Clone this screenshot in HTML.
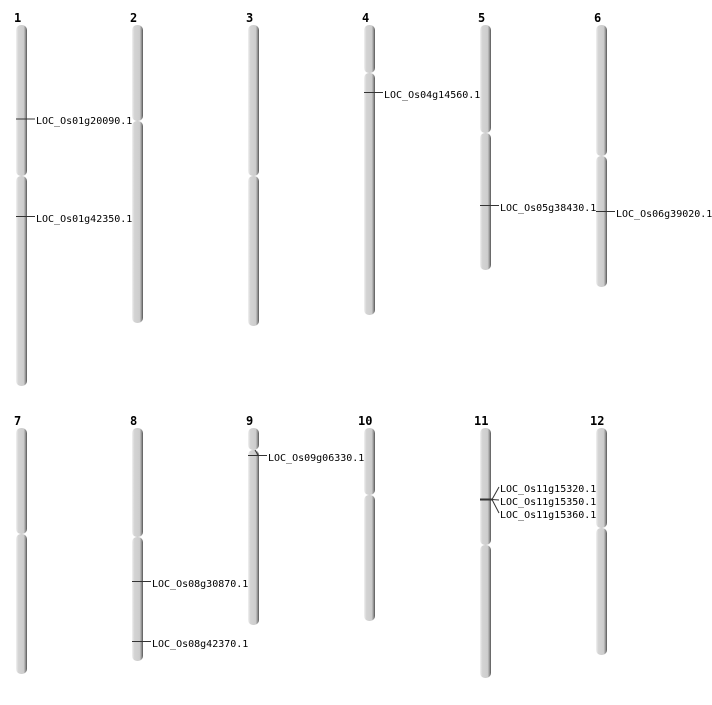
<!DOCTYPE html>
<html><head><meta charset="utf-8"><style>
body{margin:0;background:#fff}
text{font-family:"DejaVu Sans Mono","Liberation Mono",monospace;font-size:10px;fill:#000}
.n{font-family:"DejaVu Sans Mono","Liberation Mono",monospace;font-size:12px;font-weight:bold}
</style></head><body>
<svg width="712" height="700" xmlns="http://www.w3.org/2000/svg">
<defs><linearGradient id="g" x1="0" x2="1" y1="0" y2="0">
<stop offset="0" stop-color="#f2f2f2"/><stop offset="0.2" stop-color="#d4d4d4"/><stop offset="0.7" stop-color="#cdcdcd"/><stop offset="0.85" stop-color="#9a9a9a"/><stop offset="1" stop-color="#555"/></linearGradient></defs>
<g fill="url(#g)">
<rect x="16" y="25" width="11" height="151" rx="5"/><rect x="16" y="176" width="11" height="210" rx="5"/>
<rect x="132" y="25" width="11" height="96" rx="5"/><rect x="132" y="121" width="11" height="202" rx="5"/>
<rect x="248" y="25" width="11" height="151" rx="5"/><rect x="248" y="176" width="11" height="150" rx="5"/>
<rect x="364" y="25" width="11" height="48" rx="5"/><rect x="364" y="73" width="11" height="242" rx="5"/>
<rect x="480" y="25" width="11" height="108" rx="5"/><rect x="480" y="133" width="11" height="137" rx="5"/>
<rect x="596" y="25" width="11" height="131" rx="5"/><rect x="596" y="156" width="11" height="131" rx="5"/>
<rect x="16" y="428" width="11" height="106" rx="5"/><rect x="16" y="534" width="11" height="140" rx="5"/>
<rect x="132" y="428" width="11" height="109" rx="5"/><rect x="132" y="537" width="11" height="124" rx="5"/>
<rect x="248" y="428" width="11" height="22" rx="5"/><rect x="248" y="450" width="11" height="175" rx="5"/>
<rect x="364" y="428" width="11" height="67" rx="5"/><rect x="364" y="495" width="11" height="126" rx="5"/>
<rect x="480" y="428" width="11" height="117" rx="5"/><rect x="480" y="545" width="11" height="133" rx="5"/>
<rect x="596" y="428" width="11" height="100" rx="5"/><rect x="596" y="528" width="11" height="127" rx="5"/>
</g>
<g class="n">
<text class="n" x="14" y="22">1</text><text class="n" x="130" y="22">2</text><text class="n" x="246" y="22">3</text><text class="n" x="362" y="22">4</text><text class="n" x="478" y="22">5</text><text class="n" x="594" y="22">6</text>
<text class="n" x="14" y="425">7</text><text class="n" x="130" y="425">8</text><text class="n" x="246" y="425">9</text><text class="n" x="358" y="425">10</text><text class="n" x="474" y="425">11</text><text class="n" x="590" y="425">12</text>
</g>
<g stroke="#333" stroke-width="1">
<line x1="16" y1="119" x2="35" y2="119"/><line x1="16" y1="216.5" x2="35" y2="216.5"/>
<line x1="364" y1="92.5" x2="383" y2="92.5"/><line x1="480" y1="205.5" x2="499" y2="205.5"/>
<line x1="596" y1="211.5" x2="615" y2="211.5"/>
<line x1="248" y1="455.5" x2="267" y2="455.5"/><line x1="255" y1="450" x2="258" y2="455"/>
<line x1="132" y1="581.5" x2="151" y2="581.5"/><line x1="132" y1="641.5" x2="151" y2="641.5"/>
<line x1="480" y1="499.5" x2="492" y2="499.5" stroke-width="2"/>
<line x1="492" y1="499.5" x2="499" y2="487"/><line x1="492" y1="499.5" x2="499" y2="500"/><line x1="492" y1="499.5" x2="499" y2="513"/>
</g>
<text x="36" y="124">LOC_Os01g20090.1</text>
<text x="36" y="222">LOC_Os01g42350.1</text>
<text x="384" y="98">LOC_Os04g14560.1</text>
<text x="500" y="211">LOC_Os05g38430.1</text>
<text x="616" y="217">LOC_Os06g39020.1</text>
<text x="268" y="461">LOC_Os09g06330.1</text>
<text x="152" y="587">LOC_Os08g30870.1</text>
<text x="152" y="647">LOC_Os08g42370.1</text>
<text x="500" y="492">LOC_Os11g15320.1</text>
<text x="500" y="505">LOC_Os11g15350.1</text>
<text x="500" y="518">LOC_Os11g15360.1</text>
</svg>
</body></html>
